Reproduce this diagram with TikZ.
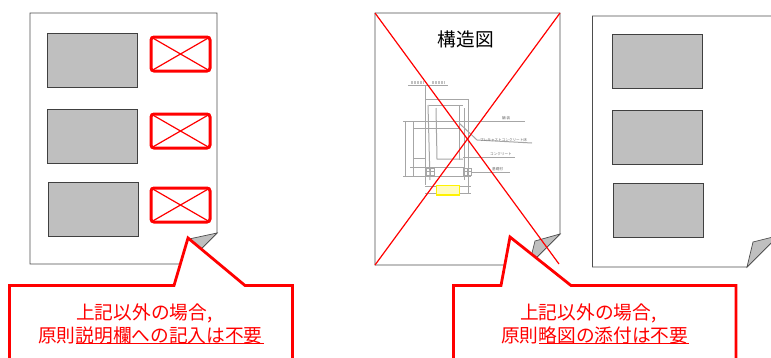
\documentclass[tikz,border=0pt]{standalone}
\usepackage{fontspec}
\setmainfont{Noto Sans CJK JP}
\definecolor{notered}{HTML}{FF0000}
\definecolor{pageline}{HTML}{4D4D4D}
\definecolor{photofill}{HTML}{BFBFBF}
\definecolor{sketchline}{HTML}{A6A6A6}
\tikzset{
  pagebox/.style={draw=pageline,line width=0.9pt,fill=white},
  foldflap/.style={draw=pageline,line width=0.7pt,fill=photofill},
  photobox/.style={draw=black!75,line width=0.9pt,fill=photofill},
  crossbox/.style={draw=notered,line width=3pt,rounded corners=3pt},
  crossline/.style={draw=notered,line width=1.2pt},
  calloutbox/.style={draw=notered,line width=2.8pt,fill=white,miter limit=10},
  notetext/.style={text=notered,font=\fontsize{18.7}{22}\selectfont,inner sep=0pt,anchor=west},
  sketch/.style={draw=sketchline,line width=1pt},
  sketchmark/.style={draw=sketchline!70,line width=2.4pt,dash pattern=on 2.2pt off 0.8pt},
  sketchlabel/.style={text=black!60,font=\fontsize{3.6}{4}\selectfont,inner sep=0pt,anchor=west},
}
\begin{document}
\begin{tikzpicture}[x=1pt,y=-1pt]
\useasboundingbox (0,0) rectangle (771,357);
% left page
\draw[pagebox] (30,13) -- (217,13) -- (217,233) -- (186,264) -- (30,264) -- cycle;
\draw[foldflap] (217,233) -- (189,239) -- (182,264) -- (186,264) -- cycle;
\draw[photobox] (47,33) rectangle (137,87);
\draw[photobox] (47,109) rectangle (137,163);
\draw[photobox] (48,182) rectangle (138,236);
\foreach \boxy in {37,114,188}{
  \draw[crossbox] (151,\boxy) rectangle (210,\boxy+34);
  \draw[crossline] (151,\boxy) -- (210,\boxy+34);
  \draw[crossline] (151,\boxy+34) -- (210,\boxy);
}
% middle page
\draw[pagebox] (375,13) -- (560,13) -- (560,234) -- (529,265) -- (375,265) -- cycle;
\draw[foldflap] (560,234) -- (535,241) -- (529,265) -- cycle;
\node (drawingtitle) at (466,39) {\fontsize{18.7}{22}\selectfont 構造図};
% sketch of the structure
\draw[sketch] (408,85) -- (448,85);
\draw[sketchmark] (411,82.5) -- (424,82.5) (432,82.5) -- (445,82.5);
\draw[sketch] (425,85) -- (425,185) (468,99) -- (468,193) (425,99) -- (468,99);
\draw[sketch] (429,105) -- (463,105);
\draw[sketch] (403,121) -- (525,121);
\draw[sketch] (428,105) -- (430,180) (436,108) -- (437,159) -- (463,159);
\draw[sketch] (459,105) -- (459,160) (464,108) -- (464,180);
\draw[sketch] (413,128) -- (460,128);
\draw[sketch] (459,123) -- (477,140) -- (532,143);
\draw[sketch] (405,121) -- (405,176) (413,121) -- (413,176);
\draw[sketch] (410,167) -- (465,167) (403,176) -- (471,176) (471,172) -- (510,172);
\draw[sketch] (413,158) -- (425,158);
\draw[sketch] (463,157) -- (515,157);
\draw[sketch] (425,186) -- (471,186) (425,193) -- (471,193);
\foreach \hatchx in {426,463}{
  \draw[sketch] (\hatchx,168) rectangle (\hatchx+8,175);
  \draw[sketch] (\hatchx+4,168) -- (\hatchx+4,175) (\hatchx,171.5) -- (\hatchx+8,171.5);
}
\draw[draw=yellow,line width=1.5pt,fill=yellow!25] (436.5,185.5) rectangle (459.5,195);
\node[sketchlabel] (labelfloor) at (480,140) {プレキャストコンクリート床};
\node[sketchlabel] (labelconcrete) at (490,154) {コンクリート};
\node[sketchlabel] (labelbase) at (492,169) {基礎材};
\node[sketchlabel] (labelground) at (502,118) {舗\ 装};
% red cross over the middle page
\draw[crossline] (375,13) -- (559,264);
\draw[crossline] (560,13) -- (375,265);
% right page
\draw[pagebox] (773,16) -- (592.5,16) -- (592.5,267) -- (747,267) -- (773,241);
\draw[foldflap] (747,267) -- (753,242) -- (773,237) -- (773,241) -- cycle;
\draw[photobox] (612,34) rectangle (702,88);
\draw[photobox] (612,110) rectangle (702,164);
\draw[photobox] (613,183) rectangle (703,237);
% callouts
\draw[calloutbox] (9.5,360) -- (9.5,285.5) -- (174,285.5) -- (188,238) -- (245,285.5) -- (292.5,285.5) -- (292.5,360);
\draw[calloutbox] (453.5,360) -- (453.5,285.5) -- (501,285.5) -- (510,237) -- (571,285.5) -- (736,285.5) -- (736,360);
\node[notetext] (leftnotea) at (76,313) {上記以外の場合,};
\node[notetext] (leftnoteb) at (38,335) {原則説明欄への記入は不要};
\node[notetext] (rightnotea) at (520,313) {上記以外の場合,};
\node[notetext] (rightnoteb) at (501,335) {原則略図の添付は不要};
\draw[notered,line width=0.9pt] (76,343.5) -- (264,343.5);
\draw[notered,line width=0.9pt] (539,343.5) -- (689,343.5);
\end{tikzpicture}
\end{document}
